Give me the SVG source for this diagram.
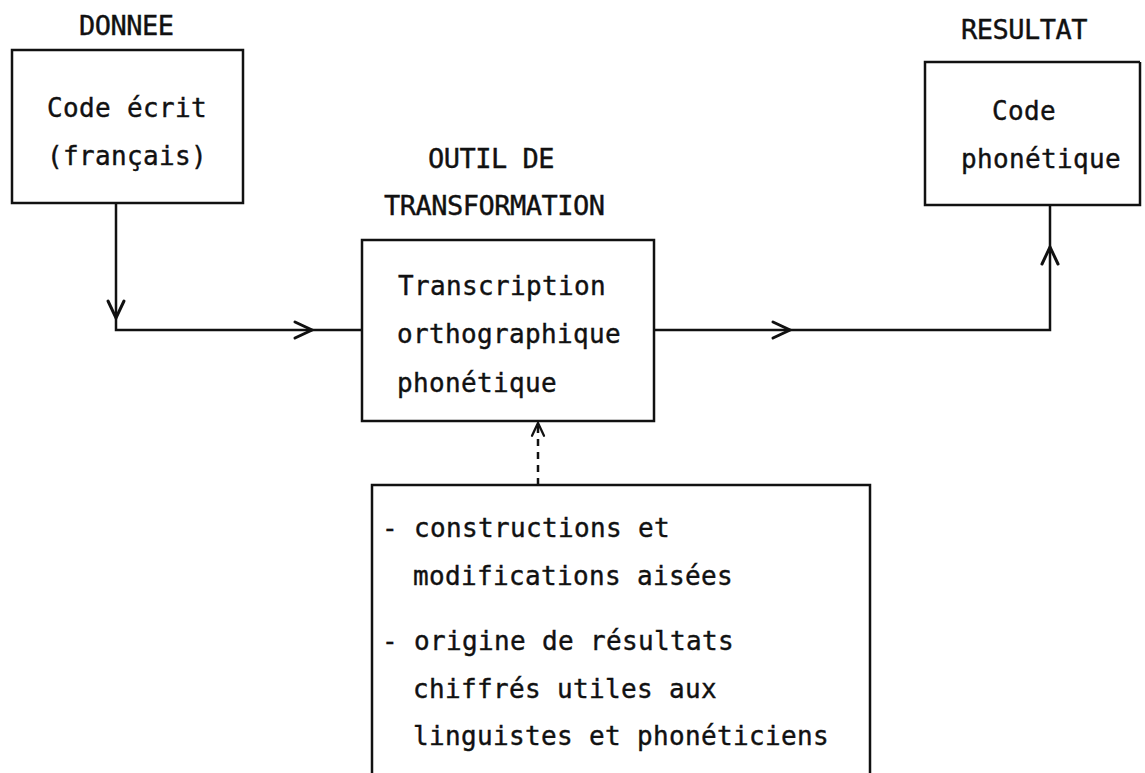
<svg xmlns="http://www.w3.org/2000/svg" width="1145" height="773" viewBox="0 0 1145 773">
<style>
  .box { fill: none; stroke: #111; stroke-width: 2.5; }
  .line { fill: none; stroke: #111; stroke-width: 2.5; }
  .dash { fill: none; stroke: #111; stroke-width: 2.5; stroke-dasharray: 7 6; }
  .chev { fill: none; stroke: #111; stroke-width: 3; stroke-linecap: round; stroke-linejoin: miter; }
  text { font-family: "DejaVu Sans Mono", "Liberation Mono", monospace; font-size: 26px; letter-spacing: 0.35px; fill: #111; stroke: #111; stroke-width: 0.4; }
  .hdr { font-size: 27px; letter-spacing: -0.5px; }
</style>
<defs>
  <path id="chev" d="M-17,-8 L0,0 L-17,8"/>
</defs>
<rect width="1145" height="773" fill="#ffffff"/>

<g id="donnee">
  <text class="hdr" x="79" y="35">DONNEE</text>
  <rect class="box" x="12" y="50" width="231" height="153"/>
  <text x="47" y="117">Code écrit</text>
  <text x="47" y="165">(français)</text>
</g>

<g id="outil">
  <text class="hdr" x="428" y="168">OUTIL DE</text>
  <text class="hdr" x="384" y="215">TRANSFORMATION</text>
  <rect class="box" x="362" y="240" width="292" height="181"/>
  <text x="398" y="295">Transcription</text>
  <text x="397" y="343">orthographique</text>
  <text x="397" y="392">phonétique</text>
</g>

<g id="resultat">
  <text class="hdr" x="961" y="39">RESULTAT</text>
  <path class="box" d="M1140,62 L925,62 L925,205 L1140,205 L1140,62"/>
  <text x="992" y="120">Code</text>
  <text x="961" y="168">phonétique</text>
</g>

<g id="proprietes">
  <path class="box" d="M372,773 L372,485 L870,485 L870,773"/>
  <text x="382" y="537">- constructions et</text>
  <text x="413" y="585">modifications aisées</text>
  <text x="382" y="650">- origine de résultats</text>
  <text x="413" y="698">chiffrés utiles aux</text>
  <text x="413" y="745">linguistes et phonéticiens</text>
</g>

<g id="connectors">
  <path class="line" d="M116,203 L116,330 L362,330"/>
  <use href="#chev" class="chev" transform="translate(116,318) rotate(90)"/>
  <use href="#chev" class="chev" transform="translate(312,330)"/>
  <path class="line" d="M654,330 L1050,330 L1050,205"/>
  <use href="#chev" class="chev" transform="translate(790,330)"/>
  <use href="#chev" class="chev" transform="translate(1050,247) rotate(-90)"/>
  <path class="dash" d="M538,485 L538,423"/>
  <use href="#chev" class="chev" transform="translate(538,423) rotate(-90) scale(0.75)"/>
</g>
</svg>
